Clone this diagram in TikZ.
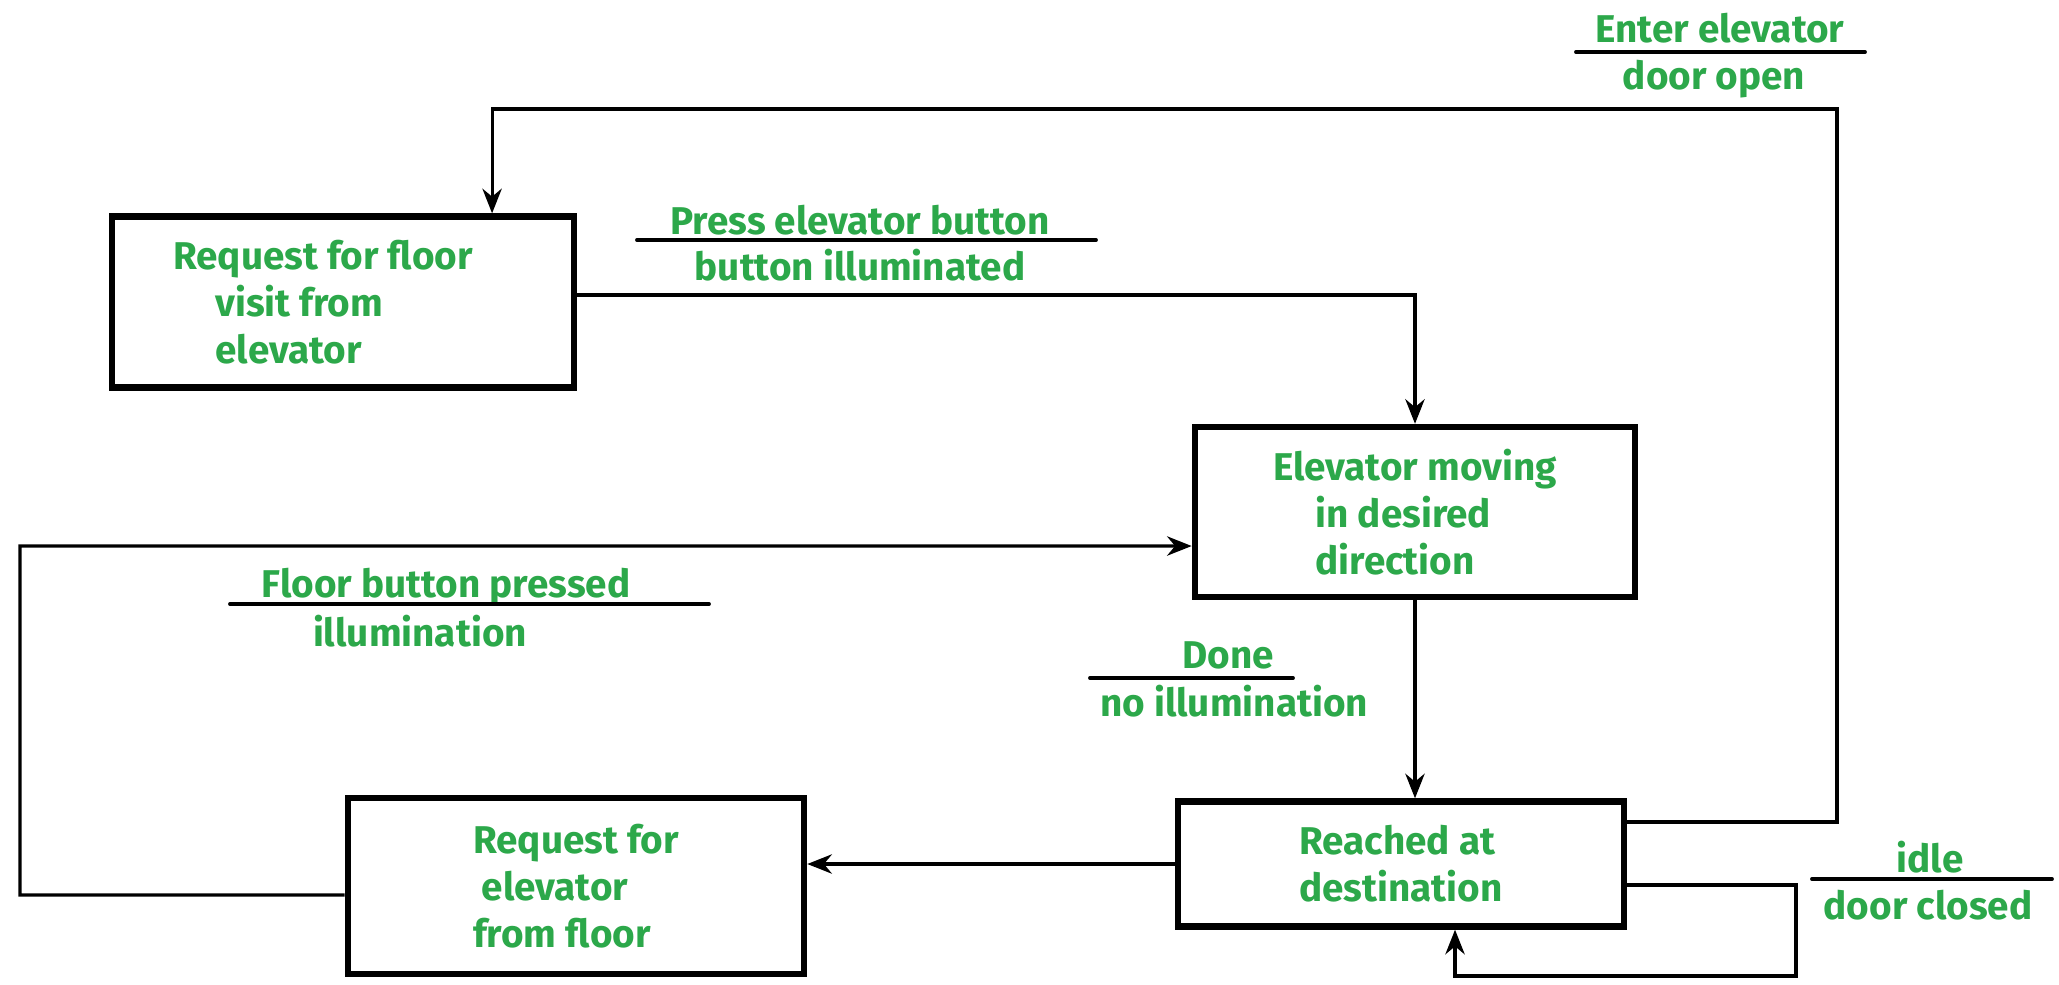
\documentclass[tikz,border=0pt]{standalone}
\usepackage{fontspec}
\setmainfont{Fira Sans}
\usetikzlibrary{arrows.meta}
\definecolor{lblgreen}{RGB}{44,168,74}
\tikzset{
  state/.style={draw, line width=1.8pt, align=left, text=lblgreen, font=\bfseries\fontsize{11}{13.3}\selectfont},
  flow/.style={line width=0.9pt, -{Stealth[length=7pt,width=5.5pt]}},
  lbl/.style={text=lblgreen, inner sep=0pt, text height=7.6pt, text depth=0pt, font=\bfseries\fontsize{11}{13.3}\selectfont},
  bar/.style={line width=1.1pt, line cap=round}
}
\begin{document}
\begin{tikzpicture}[x=0.01cm, y=-0.01cm]
            \useasboundingbox[fill=white] (0,0) rectangle (2059,984);
            \node[state, minimum width=4.62cm, minimum height=1.71cm] (reqfloor) at (343,302) {Request for floor\hspace*{.4cm}\\\hspace{12pt}visit from\\\hspace{12pt}elevator};
            \node[state, minimum width=4.40cm, minimum height=1.70cm] (moving) at (1415,512) {Elevator moving\\\hspace{12pt}in desired\\\hspace{12pt}direction};
            \node[state, minimum width=4.46cm, minimum height=1.25cm] (reached) at (1401,864) {Reached at\\destination};
            \node[state, minimum width=4.56cm, minimum height=1.76cm] (reqelev) at (576,886) {Request for\\\hspace{2.5pt}elevator\\from floor};
            \coordinate (topR) at (1837,109);
            \coordinate (loopL) at (20,546);
            \coordinate (selfR) at (1796,976);
            \draw[flow]([yshift=.42cm]reached.east) -| (topR) -| ([xshift=1.49cm]reqfloor.north);
            \draw[flow]([yshift=.07cm]reqfloor.east) -| (moving.north);
            \draw[flow](moving.south) -- (moving.south |- reached.north);
            \draw[flow](reached.west) -- (reached.west -| reqelev.east);
            \draw[flow]([yshift=-.09cm]reqelev.west) -| (loopL) -- ([yshift=-.34cm]moving.west);
            \draw[flow]([yshift=-.21cm]reached.east) -| (selfR) -| ([xshift=.54cm]reached.south);
            \foreach \i/\x/\ya/\top/\xb/\yb/\bot/\la/\lb/\yc in{1/1720/29/Enter elevator/1714/76/door open/1576/1865/52,2/860/221/Press elevator button/860/267/button illuminated/637/1096/240,3/446/584/Floor button pressed/420/633/illumination/230/709/604,4/1228/655/Done/1234/703/no illumination/1090/1293/678,5/1930/859/idle/1928/906/door closed/1812/2052/879}
            {\node[lbl](top\i) at (\x,\ya){\top};
             \node[lbl](bot\i) at (\xb,\yb){\bot};
             \draw[bar](\la,\yc)--(\lb,\yc);}
        \end{tikzpicture}
\end{document}
